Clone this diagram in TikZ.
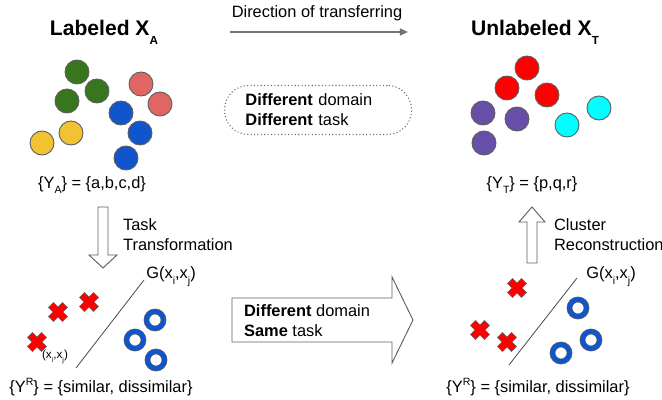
\documentclass[tikz,border=0pt]{standalone}
\usepackage{fontspec}
\setmainfont{Liberation Sans}
\usetikzlibrary{positioning, arrows.meta}

\definecolor{dgreen}{HTML}{38761D}
\definecolor{pinkred}{HTML}{E06666}
\definecolor{dblue}{HTML}{1155CC}
\definecolor{dyellow}{HTML}{F1C232}
\definecolor{dpurple}{HTML}{674EA7}
\definecolor{dcyan}{HTML}{00FFFF}
\definecolor{dred}{HTML}{FF0000}
\definecolor{outl}{HTML}{5F5F5F}

% lowered / raised small letters
\newcommand{\dn}[2][9]{\raisebox{-0.35em}{\fontsize{#1}{#1}\selectfont #2}}
\newcommand{\upr}[2][9]{\raisebox{0.45em}{\fontsize{#1}{#1}\selectfont #2}}

\tikzset{
  xmark/.pic={
    \filldraw[fill=dred, draw=outl, line width=0.4pt, rotate=45]
      (-3.5,-10) -- (3.5,-10) -- (3.5,-3.5) -- (10,-3.5) -- (10,3.5) -- (3.5,3.5)
      -- (3.5,10) -- (-3.5,10) -- (-3.5,3.5) -- (-10,3.5) -- (-10,-3.5) -- (-3.5,-3.5) -- cycle;
  }
}

\begin{document}
\begin{tikzpicture}[x=0.03cm, y=-0.03cm,
    every node/.style={font=\fontsize{14}{17}\selectfont},
    title/.style={font=\fontsize{18}{20}\selectfont\bfseries},
    dot/.style={circle, draw=outl, line width=0.8pt, minimum size=0.72cm, inner sep=0pt},
    ring/.style={circle, draw=outl, line width=0.5pt, double=dblue, double distance=0.135cm,
                 minimum size=0.51cm, inner sep=0pt},
    blockarr/.style={draw=outl, line width=0.8pt, fill=white, line join=miter},
    sepline/.style={draw=black!70, line width=0.7pt},
    dirarrow/.style={draw=black!55, line width=1.5pt, -{Triangle[length=7pt, width=6pt]}},
    dotbox/.style={draw=black!60, dotted, line width=0.9pt, rounded corners=0.72cm,
                   text width=4.35cm, inner xsep=0.63cm, minimum height=1.47cm, align=left}]
  \useasboundingbox (0,0) rectangle (662,400);

  % titles
  \node[title] (titleA) at (104,32) {Labeled X\raisebox{-0.42em}{\fontsize{10}{10}\selectfont A}};
  \node[title] (titleT) at (535,32) {Unlabeled X\raisebox{-0.42em}{\fontsize{10}{10}\selectfont T}};

  % direction of transferring
  \coordinate (dirS) at (230,32);
  \coordinate (dirE) at (408,32);
  \draw[dirarrow] (dirS) -- (dirE);
  \node (dirtext) at (317,13) {Direction of transferring};

  \node[dotbox] (diffbox) at (318,110) {\textbf{Different} domain\\\textbf{Different} task};

  % labeled source points
  \foreach \x/\y/\c [count=\i] in {77/72/dgreen, 97/91/dgreen, 67/101/dgreen,
      141/84/pinkred, 160/104/pinkred, 121/113/dblue, 140/133/dblue, 126/158/dblue,
      71/133/dyellow, 42/143/dyellow}
    \node[dot, fill=\c] (a\i) at (\x,\y) {};
  \node (ya) at (92,185) {\{Y\dn{A}\} = \{a,b,c,d\}};

  % unlabeled target points
  \foreach \x/\y/\c [count=\i] in {527/68/dred, 507/88/dred, 547/95/dred,
      483/113/dpurple, 517/119/dpurple, 484/143/dpurple, 567/125/dcyan, 599/108/dcyan}
    \node[dot, fill=\c] (t\i) at (\x,\y) {};
  \node (yt) at (532,185) {\{Y\dn{T}\} = \{p,q,r\}};

  % task transformation
  \draw[blockarr] (98,207) -- (108,207) -- (108,255) -- (117,255) -- (103,268) -- (89,255) -- (98,255) -- cycle;
  \node[anchor=west, align=left] (tasktr) at (119,235) {Task\\Transformation};

  % cluster reconstruction
  \draw[blockarr] (527,263) -- (537,263) -- (537,222) -- (545,222) -- (532,207) -- (519,222) -- (527,222) -- cycle;
  \node[anchor=west, align=left] (clrec) at (550,235) {Cluster\\Reconstruction};

  % pairwise source
  \coordinate (sepA1) at (76,368);
  \coordinate (sepA2) at (144,280);
  \draw[sepline] (sepA1) -- (sepA2);
  \node[anchor=west, inner sep=1pt] (gA) at (145,277) {G(x\dn{i},x\dn{j})};
  \pic (xa1) at (89,302) {xmark};
  \pic (xa2) at (58,312) {xmark};
  \pic (xa3) at (37,342) {xmark};
  \node[font=\fontsize{10}{10}\selectfont, inner sep=0pt] (pairA) at (55,357) {(x\dn[6]{i},x\dn[6]{j})};
  \node[ring] (ra1) at (155,320) {};
  \node[ring] (ra2) at (135,340) {};
  \node[ring] (ra3) at (156,360) {};
  \node (yra) at (101,387) {\{Y\upr{R}\} = \{similar, dissimilar\}};

  % different domain same task
  \draw[blockarr] (232,298) -- (392,298) -- (392,277) -- (413,320) -- (392,363) -- (392,342) -- (232,342) -- cycle;
  \node[anchor=west, align=left] (sametask) at (240,321) {\textbf{Different} domain\\\textbf{Same} task};

  % pairwise target
  \coordinate (sepT1) at (509,365);
  \coordinate (sepT2) at (577,278);
  \draw[sepline] (sepT1) -- (sepT2);
  \node[anchor=west, inner sep=1pt] (gT) at (585,277) {G(x\dn{i},x\dn{j})};
  \pic (xt1) at (517,288) {xmark};
  \pic (xt2) at (480,330) {xmark};
  \pic (xt3) at (507,342) {xmark};
  \node[ring] (rt1) at (578,308) {};
  \node[ring] (rt2) at (591,340) {};
  \node[ring] (rt3) at (561,353) {};
  \node (yrt) at (538,387) {\{Y\upr{R}\} = \{similar, dissimilar\}};
\end{tikzpicture}
\end{document}
